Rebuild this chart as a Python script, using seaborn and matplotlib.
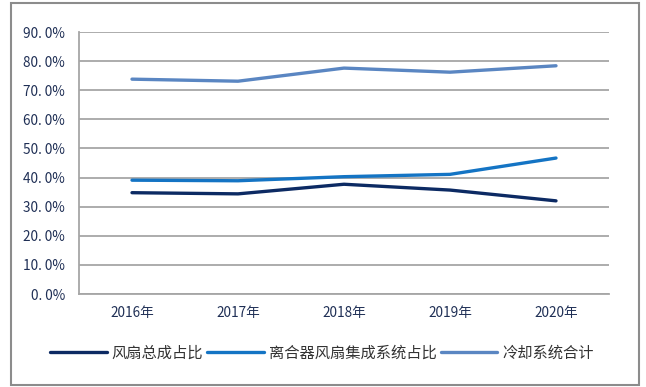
import matplotlib
matplotlib.use("Agg")
import matplotlib.pyplot as plt
from matplotlib.patches import Rectangle
from matplotlib.ticker import FuncFormatter, MultipleLocator
import seaborn as sns
import pandas as pd

years = ["2016年", "2017年", "2018年", "2019年", "2020年"]
series_names = ["风扇总成占比", "离合器风扇集成系统占比", "冷却系统合计"]
fan_assembly = [34.8, 34.4, 37.7, 35.7, 32.0]
clutch_fan_system = [39.1, 38.9, 40.3, 41.1, 46.7]
cooling_total = [73.8, 73.1, 77.6, 76.2, 78.4]
colors = ["#0c2a63", "#1474c4", "#5a86c2"]

rows = []
for name, vals in zip(series_names, [fan_assembly, clutch_fan_system, cooling_total]):
    for i, (yr, v) in enumerate(zip(years, vals)):
        rows.append({"年份": yr, "pos": i, "系列": name, "占比": v})
df = pd.DataFrame(rows)

sns.set_theme(style="white")
plt.rcParams["font.family"] = ["Noto Sans CJK SC", "DejaVu Sans"]

fig = plt.figure(figsize=(6.46, 3.87), dpi=100)
ax = fig.add_axes([79 / 646, 1 - 294 / 387, 530 / 646, 262 / 387])

sns.lineplot(data=df, x="pos", y="占比", hue="系列", hue_order=series_names,
             palette=colors, linewidth=2.4, ax=ax, legend=True,
             solid_capstyle="round")

ax.set_xlim(-0.5, 4.5)
ax.set_ylim(0, 90)
ax.yaxis.set_major_locator(MultipleLocator(10))
ax.yaxis.set_major_formatter(FuncFormatter(lambda v, p: f"{v:.0f}. 0%"))
ax.set_xticks(range(len(years)))
ax.set_xticklabels(years)
ax.set_xlabel("")
ax.set_ylabel("")

tick_color = "#1f2f55"
ax.tick_params(axis="y", length=0, pad=10, labelsize=9.8, labelcolor=tick_color)
ax.tick_params(axis="x", length=0, pad=9, labelsize=9.8, labelcolor=tick_color)

ax.grid(axis="y", color="#a6a6a6", linewidth=1.3)
ax.set_axisbelow(True)
for side in ["top", "right"]:
    ax.spines[side].set_visible(False)
for side in ["left", "bottom"]:
    ax.spines[side].set_color("#a6a6a6")
    ax.spines[side].set_linewidth(1.3)

handles, labels = ax.get_legend_handles_labels()
ax.legend_.remove()
fig.legend(handles, labels, loc="center", bbox_to_anchor=(322 / 646, 1 - 353 / 387),
           ncol=3, frameon=False, handlelength=3.7, handletextpad=0.35,
           columnspacing=0.25, fontsize=11, labelcolor="#333333")

fig.patches.append(Rectangle((11 / 646, 2 / 387), 628 / 646, 382 / 387,
                             transform=fig.transFigure, fill=False,
                             edgecolor="#8c8c8c", linewidth=1.5))

fig.savefig("out.png", dpi=100, facecolor="white")
